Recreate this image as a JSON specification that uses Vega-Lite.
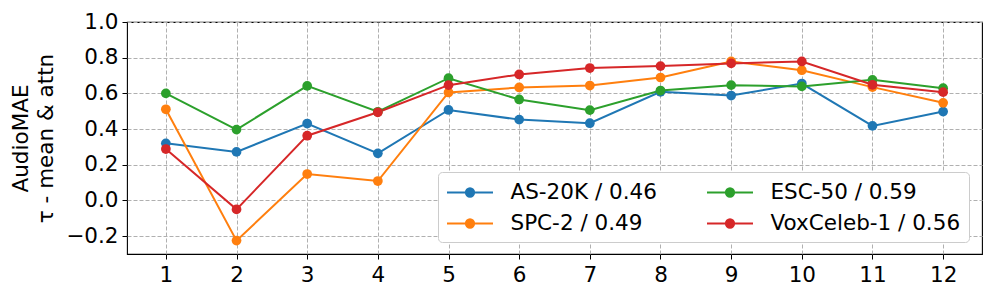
{
  "$schema": "https://vega.github.io/schema/vega-lite/v6.json",
  "autosize": "none",
  "width": 855,
  "height": 232,
  "padding": {"left": 127, "top": 22, "right": 15, "bottom": 45},
  "background": "white",
  "config": {
    "font": "DejaVu Sans",
    "view": {"stroke": "black", "strokeWidth": 1.1},
    "axis": {
      "labelFont": "DejaVu Sans",
      "titleFont": "DejaVu Sans",
      "labelFontSize": 21.5,
      "titleFontSize": 21.5,
      "titleFontWeight": "normal",
      "labelColor": "black",
      "titleColor": "black",
      "tickColor": "black",
      "tickSize": 5,
      "tickWidth": 1,
      "labelPadding": 4,
      "domain": false,
      "grid": true,
      "gridColor": "#b0b0b0",
      "gridDash": [4, 2],
      "gridWidth": 1
    }
  },
  "data": {
    "values": [
      {"layer": 1, "series": "AS-20K / 0.46", "v": 0.32},
      {"layer": 2, "series": "AS-20K / 0.46", "v": 0.272},
      {"layer": 3, "series": "AS-20K / 0.46", "v": 0.431},
      {"layer": 4, "series": "AS-20K / 0.46", "v": 0.264},
      {"layer": 5, "series": "AS-20K / 0.46", "v": 0.507},
      {"layer": 6, "series": "AS-20K / 0.46", "v": 0.453},
      {"layer": 7, "series": "AS-20K / 0.46", "v": 0.433},
      {"layer": 8, "series": "AS-20K / 0.46", "v": 0.609},
      {"layer": 9, "series": "AS-20K / 0.46", "v": 0.588},
      {"layer": 10, "series": "AS-20K / 0.46", "v": 0.655},
      {"layer": 11, "series": "AS-20K / 0.46", "v": 0.418},
      {"layer": 12, "series": "AS-20K / 0.46", "v": 0.498},
      {"layer": 1, "series": "SPC-2 / 0.49", "v": 0.511},
      {"layer": 2, "series": "SPC-2 / 0.49", "v": -0.225},
      {"layer": 3, "series": "SPC-2 / 0.49", "v": 0.148},
      {"layer": 4, "series": "SPC-2 / 0.49", "v": 0.109},
      {"layer": 5, "series": "SPC-2 / 0.49", "v": 0.605},
      {"layer": 6, "series": "SPC-2 / 0.49", "v": 0.633},
      {"layer": 7, "series": "SPC-2 / 0.49", "v": 0.644},
      {"layer": 8, "series": "SPC-2 / 0.49", "v": 0.689},
      {"layer": 9, "series": "SPC-2 / 0.49", "v": 0.779},
      {"layer": 10, "series": "SPC-2 / 0.49", "v": 0.73},
      {"layer": 11, "series": "SPC-2 / 0.49", "v": 0.635},
      {"layer": 12, "series": "SPC-2 / 0.49", "v": 0.547},
      {"layer": 1, "series": "ESC-50 / 0.59", "v": 0.6},
      {"layer": 2, "series": "ESC-50 / 0.59", "v": 0.397},
      {"layer": 3, "series": "ESC-50 / 0.59", "v": 0.642},
      {"layer": 4, "series": "ESC-50 / 0.59", "v": 0.497},
      {"layer": 5, "series": "ESC-50 / 0.59", "v": 0.685},
      {"layer": 6, "series": "ESC-50 / 0.59", "v": 0.566},
      {"layer": 7, "series": "ESC-50 / 0.59", "v": 0.506},
      {"layer": 8, "series": "ESC-50 / 0.59", "v": 0.616},
      {"layer": 9, "series": "ESC-50 / 0.59", "v": 0.646},
      {"layer": 10, "series": "ESC-50 / 0.59", "v": 0.639},
      {"layer": 11, "series": "ESC-50 / 0.59", "v": 0.676},
      {"layer": 12, "series": "ESC-50 / 0.59", "v": 0.629},
      {"layer": 1, "series": "VoxCeleb-1 / 0.56", "v": 0.288},
      {"layer": 2, "series": "VoxCeleb-1 / 0.56", "v": -0.05},
      {"layer": 3, "series": "VoxCeleb-1 / 0.56", "v": 0.363},
      {"layer": 4, "series": "VoxCeleb-1 / 0.56", "v": 0.494},
      {"layer": 5, "series": "VoxCeleb-1 / 0.56", "v": 0.646},
      {"layer": 6, "series": "VoxCeleb-1 / 0.56", "v": 0.706},
      {"layer": 7, "series": "VoxCeleb-1 / 0.56", "v": 0.742},
      {"layer": 8, "series": "VoxCeleb-1 / 0.56", "v": 0.753},
      {"layer": 9, "series": "VoxCeleb-1 / 0.56", "v": 0.768},
      {"layer": 10, "series": "VoxCeleb-1 / 0.56", "v": 0.779},
      {"layer": 11, "series": "VoxCeleb-1 / 0.56", "v": 0.648},
      {"layer": 12, "series": "VoxCeleb-1 / 0.56", "v": 0.607}
    ]
  },
  "encoding": {
    "x": {
      "field": "layer",
      "type": "quantitative",
      "scale": {"domain": [0.45, 12.55], "nice": false, "zero": false},
      "axis": {"title": null, "values": [1,2,3,4,5,6,7,8,9,10,11,12], "format": "d", "labelPadding": 5}
    },
    "y": {
      "field": "v",
      "type": "quantitative",
      "scale": {"domain": [-0.3, 1.0], "nice": false, "zero": false},
      "axis": {
        "title": ["AudioMAE", "τ - mean & attn"],
        "titleLineHeight": 25,
        "values": [-0.2, 0, 0.2, 0.4, 0.6, 0.8, 1.0],
        "format": ".1f",
        "titlePadding": 8
      }
    },
    "color": {
      "field": "series",
      "type": "nominal",
      "scale": {
        "domain": ["AS-20K / 0.46", "ESC-50 / 0.59", "SPC-2 / 0.49", "VoxCeleb-1 / 0.56"],
        "range": ["#1f77b4", "#2ca02c", "#ff7f0e", "#d62728"]
      },
      "legend": {
        "title": null,
        "orient": "none",
        "legendX": 311,
        "legendY": 150,
        "direction": "horizontal",
        "columns": 2,
        "columnPadding": 46,
        "rowPadding": 8,
        "padding": 8,
        "fillColor": "white",
        "strokeColor": "#cccccc",
        "cornerRadius": 4,
        "labelFont": "DejaVu Sans",
        "labelFontSize": 21.5,
        "labelColor": "black",
        "labelOffset": 28,
        "labelLimit": 0,
        "symbolSize": 529,
        "symbolOffset": 11.5,
        "symbolStrokeWidth": 2,
        "symbolType": "M-2,0H2M-0.36,0A0.36,0.36,0,1,0,0.36,0A0.36,0.36,0,1,0,-0.36,0Z",
        "encode": {
          "symbols": {"update": {"fill": {"scale": "color", "field": "value"}, "stroke": {"scale": "color", "field": "value"}, "opacity": {"value": 1}}}
        }
      }
    }
  },
  "layer": [
    {"mark": {"type": "line", "strokeWidth": 2}},
    {"mark": {"type": "point", "filled": true, "size": 95, "opacity": 1}}
  ]
}
